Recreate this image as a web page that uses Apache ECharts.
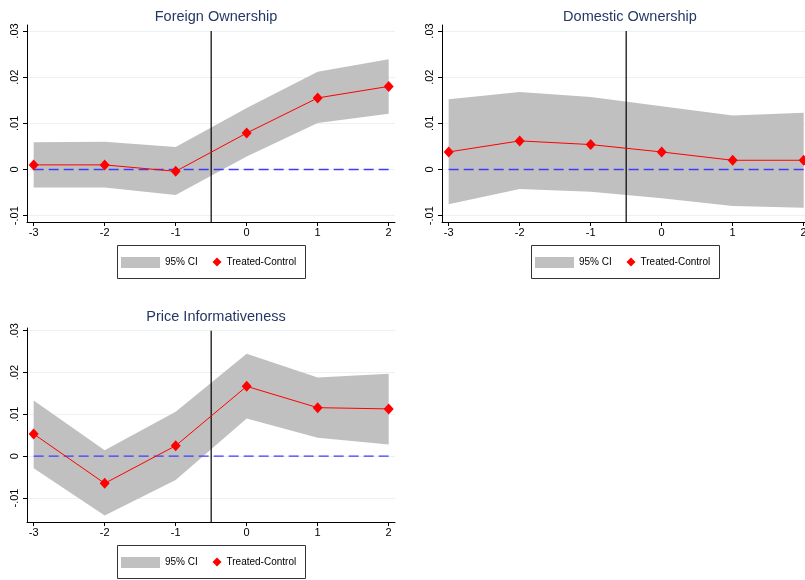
<!DOCTYPE html>
<html>
<head>
<meta charset="utf-8">
<script src="https://cdn.jsdelivr.net/npm/echarts@6/dist/echarts.min.js"></script>
<style>
  html, body { margin: 0; padding: 0; background: #ffffff; }
  #chart { width: 805px; height: 580px; }
</style>
</head>
<body>
<div id="chart"></div>
<script>
// ---- Data ----
const periods = [-3, -2, -1, 0, 1, 2];

const foreignEst = [0.0010, 0.0010, -0.0004, 0.0079, 0.0155, 0.0180];
const foreignLo  = [-0.0039, -0.0039, -0.0055, 0.0028, 0.0101, 0.0121];
const foreignHi  = [0.0059, 0.0060, 0.0049, 0.0133, 0.0212, 0.0239];

const domesticEst = [0.0038, 0.0062, 0.0054, 0.0038, 0.0020, 0.0020];
const domesticLo  = [-0.0075, -0.0042, -0.0048, -0.0062, -0.0079, -0.0083];
const domesticHi  = [0.0152, 0.0168, 0.0157, 0.0137, 0.0117, 0.0123];

const priceEst = [0.0053, -0.0065, 0.0025, 0.0167, 0.0116, 0.0113];
const priceLo  = [-0.0029, -0.0142, -0.0057, 0.0090, 0.0044, 0.0028];
const priceHi  = [0.0133, 0.0014, 0.0106, 0.0245, 0.0188, 0.0197];

const panelTitles = ['Foreign Ownership', 'Domestic Ownership', 'Price Informativeness'];
const xTicks = [-3, -2, -1, 0, 1, 2];
const xTickLabels = ['-3', '-2', '-1', '0', '1', '2'];
const yTicks = [-0.01, 0, 0.01, 0.02, 0.03];
const yTickLabels = ['-.01', '0', '.01', '.02', '.03'];
const eventLineX = -0.5;
const eventLineTop = 0.03;
const zeroLine = [[-3, 0], [2, 0]];
const legendNames = ['95% CI', 'Treated-Control'];

// ---- Layout (per panel) ----
const panels = [
  { est: foreignEst, lo: foreignLo, hi: foreignHi, left: 27, top: 25, width: 368, height: 197,
    xMin: -3.094, xMax: 2.089, yMin: -0.01137, yMax: 0.0313, titleX: 211, titleY: 4,
    legendLeft: 117, legendTop: 245 },
  { est: domesticEst, lo: domesticLo, hi: domesticHi, left: 442, top: 25, width: 368, height: 197,
    xMin: -3.094, xMax: 2.089, yMin: -0.01137, yMax: 0.0313, titleX: 625, titleY: 4,
    legendLeft: 531, legendTop: 245 },
  { est: priceEst, lo: priceLo, hi: priceHi, left: 27, top: 328, width: 368, height: 194,
    xMin: -3.094, xMax: 2.089, yMin: -0.01574, yMax: 0.03065, titleX: 211, titleY: 304,
    legendLeft: 117, legendTop: 545 }
];

const FONT = '"Liberation Sans", Arial, sans-serif';
const titleColor = '#243865';
const bandColor = '#c0c0c0';
const lineRed = '#ff0000';
const dashBlue = '#3c3cff';
const gridColor = '#eaf2f3';

const option = {
  animation: false,
  backgroundColor: '#ffffff',
  textStyle: { fontFamily: FONT },
  title: [], grid: [], xAxis: [], yAxis: [], series: [], legend: [],
  graphic: []
};

panels.forEach((p, k) => {
  option.title.push({
    text: panelTitles[k], left: p.titleX, top: p.titleY, textAlign: 'center',
    textStyle: { fontFamily: FONT, fontSize: 14.5, fontWeight: 'normal', color: titleColor }
  });
  option.grid.push({ left: p.left, top: p.top, width: p.width, height: p.height,
    containLabel: false, outerBoundsMode: 'none' });
  option.xAxis.push({
    type: 'value', gridIndex: k, min: p.xMin, max: p.xMax,
    axisLine: { show: true, onZero: false, lineStyle: { color: '#000', width: 1 } },
    axisTick: { show: true, length: 4, customValues: xTicks, lineStyle: { color: '#000' } },
    axisLabel: { customValues: xTicks, margin: 5, fontSize: 11, color: '#000', fontFamily: FONT,
      formatter: v => { const i = xTicks.indexOf(v); return i >= 0 ? xTickLabels[i] : ''; } },
    splitLine: { show: false }
  });
  option.yAxis.push({
    type: 'value', gridIndex: k, min: p.yMin, max: p.yMax,
    axisLine: { show: true, onZero: false, lineStyle: { color: '#000', width: 1 } },
    axisTick: { show: true, length: 4, customValues: yTicks, lineStyle: { color: '#000' } },
    axisLabel: { customValues: yTicks, rotate: 90, margin: 7, fontSize: 11, color: '#000', fontFamily: FONT,
      formatter: v => { const i = yTicks.findIndex(t => Math.abs(t - v) < 1e-9); return i >= 0 ? yTickLabels[i] : ''; } },
    splitLine: { show: true, lineStyle: { color: gridColor, width: 1 } }
  });

  const lo = p.lo, hi = p.hi;
  option.series.push({
    type: 'custom', name: legendNames[0], xAxisIndex: k, yAxisIndex: k,
    itemStyle: { color: bandColor }, z: 1, silent: true,
    data: periods.map((x, i) => [x, lo[i], hi[i]]),
    encode: { x: 0, y: [1, 2] },
    renderItem: function (params, api) {
      if (params.dataIndex !== 0) return null;
      const pts = [];
      for (let i = 0; i < periods.length; i++) pts.push(api.coord([periods[i], hi[i]]));
      for (let i = periods.length - 1; i >= 0; i--) pts.push(api.coord([periods[i], lo[i]]));
      return { type: 'polygon', shape: { points: pts }, style: { fill: bandColor } };
    }
  });
  option.series.push({
    type: 'line', xAxisIndex: k, yAxisIndex: k, z: 3, silent: true,
    data: zeroLine, symbol: 'none',
    lineStyle: { color: dashBlue, width: 1.3, type: [10, 5] }
  });
  option.series.push({
    type: 'line', xAxisIndex: k, yAxisIndex: k, z: 4, silent: true,
    data: [[eventLineX, p.yMin], [eventLineX, eventLineTop]], symbol: 'none',
    lineStyle: { color: '#000', width: 1.2 }
  });
  option.series.push({
    type: 'line', name: legendNames[1], xAxisIndex: k, yAxisIndex: k, z: 5, silent: true,
    data: periods.map((x, i) => [x, p.est[i]]),
    symbol: 'diamond', symbolSize: [10, 11], showAllSymbol: true,
    itemStyle: { color: lineRed }, lineStyle: { color: lineRed, width: 1 }
  });

  // legend box border
  option.graphic.push({
    type: 'rect', left: p.legendLeft, top: p.legendTop, silent: true,
    shape: { width: 188, height: 33 },
    style: { fill: '#fff', stroke: '#333', lineWidth: 1 }, z: -1
  });
  option.legend.push({
    data: [{ name: legendNames[0], icon: 'rect' }], selectedMode: false,
    left: p.legendLeft + 4, top: p.legendTop + 11, padding: 0,
    itemWidth: 39, itemHeight: 11,
    textStyle: { fontFamily: FONT, fontSize: 10, color: '#000', lineHeight: 11, padding: [2, 0, 0, 0] }
  });
  option.legend.push({
    data: [{ name: legendNames[1], icon: 'diamond' }], selectedMode: false,
    left: p.legendLeft + 95.5, top: p.legendTop + 12, padding: 0,
    itemWidth: 9, itemHeight: 9,
    textStyle: { fontFamily: FONT, fontSize: 10, color: '#000', lineHeight: 9 }
  });
});

const chart = echarts.init(document.getElementById('chart'), null, { renderer: 'canvas' });
chart.setOption(option);
</script>
</body>
</html>
